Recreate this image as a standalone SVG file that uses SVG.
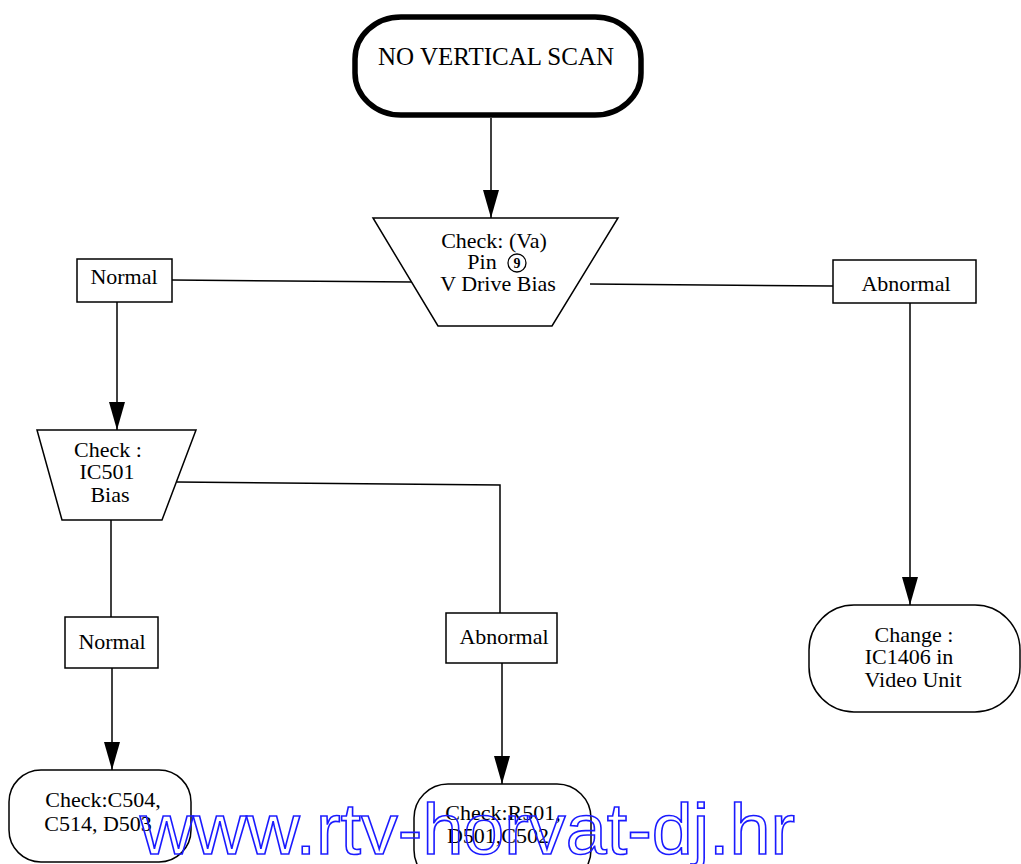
<svg xmlns="http://www.w3.org/2000/svg" width="1021" height="864" viewBox="0 0 1021 864">
<defs>
<style>
.t{font-family:"Liberation Serif","Times New Roman",serif;font-size:22px;fill:#000;text-anchor:middle}
.box{fill:#fff;stroke:#000;stroke-width:1.5}
.ln{fill:none;stroke:#000;stroke-width:1.5}
.wm{font-family:"Liberation Sans",Arial,sans-serif;font-size:72px;fill:none;stroke:#1a1aff;stroke-width:1.6}
</style>
<marker id="a" viewBox="0 0 28 16" refX="28" refY="8" markerWidth="28" markerHeight="16" markerUnits="userSpaceOnUse" orient="auto">
<path d="M0,0 L28,8 L0,16 Z" fill="#000"/>
</marker>
</defs>
<rect width="1021" height="864" fill="#fff"/>
<g id="connectors">
<line class="ln" x1="491" y1="118" x2="491" y2="218" marker-end="url(#a)"/>
<line class="ln" x1="172" y1="280" x2="412" y2="282"/>
<line class="ln" x1="590" y1="284" x2="833" y2="286"/>
<line class="ln" x1="117" y1="302" x2="117" y2="430" marker-end="url(#a)"/>
<polyline class="ln" points="177,482 500,485 500,614"/>
<line class="ln" x1="111" y1="520" x2="111" y2="617"/>
<line class="ln" x1="112" y1="668" x2="112" y2="770" marker-end="url(#a)"/>
<line class="ln" x1="502" y1="663" x2="502" y2="784" marker-end="url(#a)"/>
<line class="ln" x1="910" y1="303" x2="910" y2="605" marker-end="url(#a)"/>
</g>
<g id="start">
<rect x="355" y="17" width="286" height="98" rx="46" ry="42" fill="#fff" stroke="#000" stroke-width="5.5"/>
<text class="t" x="496" y="65" style="font-size:25px">NO VERTICAL SCAN</text>
</g>
<g id="check-va">
<polygon class="box" points="373,218 618,218 552,326 438,326"/>
<text class="t" x="494" y="248">Check: (Va)</text>
<text class="t" x="482" y="269">Pin</text>
<circle cx="517" cy="263" r="9" fill="none" stroke="#000" stroke-width="1.3"/>
<text class="t" x="517" y="268" style="font-size:14px;font-weight:bold">9</text>
<text class="t" x="498" y="291">V Drive Bias</text>
</g>
<g id="normal1">
<rect class="box" x="77" y="259" width="95" height="43"/>
<text class="t" x="124" y="284">Normal</text>
</g>
<g id="abnormal1">
<rect class="box" x="833" y="260" width="143" height="43"/>
<text class="t" x="906" y="291">Abnormal</text>
</g>
<g id="check-ic501">
<polygon class="box" points="37,430 196,430 162,520 62,520"/>
<text class="t" x="108" y="457">Check :</text>
<text class="t" x="107" y="479">IC501</text>
<text class="t" x="110" y="502">Bias</text>
</g>
<g id="normal2">
<rect class="box" x="65" y="617" width="93" height="51"/>
<text class="t" x="112" y="649">Normal</text>
</g>
<g id="abnormal2">
<rect class="box" x="446" y="613" width="111" height="50"/>
<text class="t" x="504" y="644">Abnormal</text>
</g>
<g id="change-ic1406">
<rect class="box" x="809" y="605" width="211" height="107" rx="45" ry="45"/>
<text class="t" x="914" y="642">Change :</text>
<text class="t" x="909" y="664">IC1406 in</text>
<text class="t" x="913" y="687">Video Unit</text>
</g>
<g id="check-c504">
<rect class="box" x="9" y="770" width="182" height="92" rx="32" ry="32"/>
<text class="t" x="103" y="807">Check:C504,</text>
<text class="t" x="98" y="831">C514, D503</text>
</g>
<g id="check-r501">
<rect class="box" x="414" y="784" width="177" height="100" rx="34" ry="34"/>
<text class="t" x="503" y="820">Check:R501,</text>
<text class="t" x="498" y="843">D501,C502</text>
</g>
<text class="wm" x="140" y="854" textLength="655" lengthAdjust="spacingAndGlyphs">www.rtv-horvat-dj.hr</text>
</svg>
